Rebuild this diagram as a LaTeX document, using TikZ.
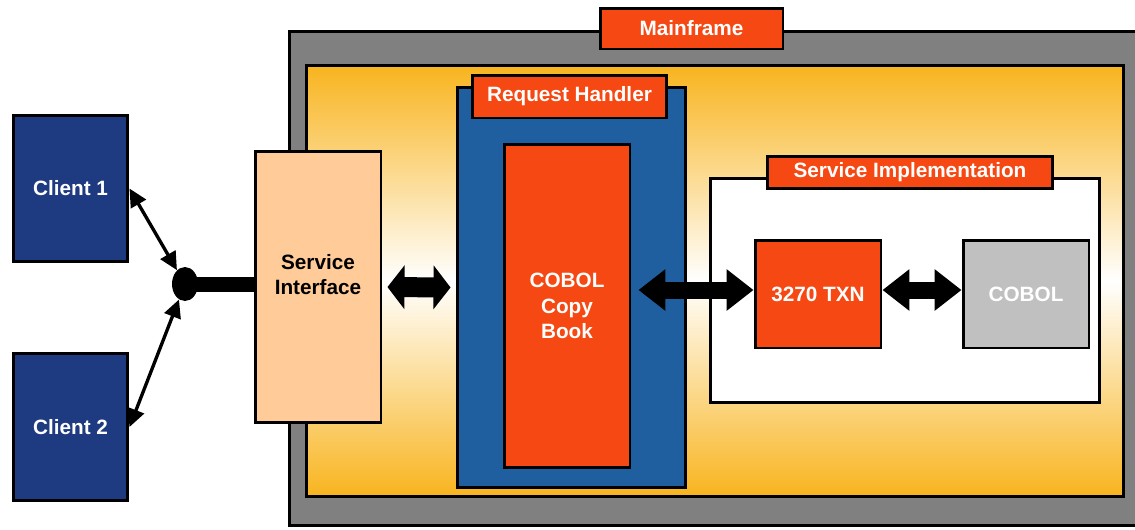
\documentclass[tikz,border=0pt]{standalone}
\usepackage{fontspec}
\setmainfont{Liberation Sans}
\usetikzlibrary{arrows.meta,positioning,shapes.geometric}
\definecolor{mforange}{RGB}{246,72,18}
\definecolor{mfgray}{RGB}{128,128,128}
\definecolor{mfyellow}{RGB}{248,180,30}
\definecolor{clientblue}{RGB}{30,58,128}
\definecolor{handlerblue}{RGB}{31,95,160}
\definecolor{peach}{RGB}{255,204,153}
\definecolor{cobolgray}{RGB}{192,192,192}

\begin{document}
\begin{tikzpicture}[
    x=0.02cm, y=-0.02cm,
    every node/.style={align=center, font=\fontsize{11.8}{14.5}\selectfont\bfseries},
    box/.style={rectangle, draw=black, line width=1.7pt, inner sep=0pt},
    client/.style={box, fill=clientblue, text=white, minimum width=2.3cm, minimum height=2.93cm},
    tag/.style={box, fill=mforange, text=white},
    block/.style={box, fill=mforange, text=white, minimum width=2.52cm},
    link/.style={line width=1.9pt, {Triangle[length=0.36cm,width=0.34cm]}-{Triangle[length=0.36cm,width=0.34cm]}},
    dblarrow/.style n args={3}{line width=#1, {Triangle[length=#2,width=#3]}-{Triangle[length=#2,width=#3]}}
]
\useasboundingbox (0,0) rectangle (1135,529);

% Mainframe frame with gradient area
\node[box, fill=mfgray, minimum width=17.22cm, minimum height=9.9cm] (mainframe) at (719.5,278.5) {};
\node[box, top color=mfyellow, bottom color=mfyellow, middle color=white, minimum width=16.36cm, minimum height=8.64cm] (inner) at (715,281) {};
\node[tag, minimum width=3.66cm, minimum height=0.82cm] (mainframe_tag) at (691.5,28.5) {Mainframe};

% Clients
\node[client] (client1) at (70.5,188.5) {Client 1};
\node[client] (client2) at (70.5,427) {Client 2};
\node[ellipse, fill=black, minimum width=0.52cm, minimum height=0.68cm, inner sep=0pt] (hub) at (185,284) {};

% Service interface
\node[box, fill=peach, minimum width=2.52cm, minimum height=5.44cm] (service_interface) at (318,287) {Service\\Interface\\[0pt]};

% Request handler
\node[box, fill=handlerblue, minimum width=4.58cm, minimum height=8.02cm] (request_handler) at (571.5,287.5) {};
\node[tag, minimum width=3.9cm, minimum height=0.86cm] (request_handler_tag) at (569.5,96.5) {Request Handler};
\node[block, minimum height=6.48cm] (copy_book) at (567,306) {COBOL\\Copy\\Book};

% Service implementation
\node[box, fill=white, minimum width=7.8cm, minimum height=4.5cm] (service_impl) at (905,290.5) {};
\node[tag, minimum width=5.72cm, minimum height=0.64cm] (service_impl_tag) at (910,172) {Service Implementation};
\node[block, minimum height=2.16cm] (txn) at (818,294) {3270 TXN};
\node[block, fill=cobolgray, minimum height=2.16cm] (cobol) at (1026,294) {COBOL};

% Connections
\draw[link] (client1.east) -- (hub);
\draw[link] (client2.east) -- (hub);
\draw[line width=0.3cm] (hub.center) -- (hub -| service_interface.west);
\draw[dblarrow={0.4cm}{0.34cm}{0.86cm}, shorten <=0.1cm, shorten >=0.1cm] (service_interface.east) -- (request_handler.west);
\draw[dblarrow={0.34cm}{0.54cm}{0.8cm}, shorten <=0.14cm] ([yshift=0.08cm]txn.west -| copy_book.east) -- ([yshift=0.08cm]txn.west);
\draw[dblarrow={0.34cm}{0.54cm}{0.8cm}] ([yshift=0.08cm]txn.east) -- ([yshift=0.08cm]cobol.west);

\end{tikzpicture}
\end{document}
